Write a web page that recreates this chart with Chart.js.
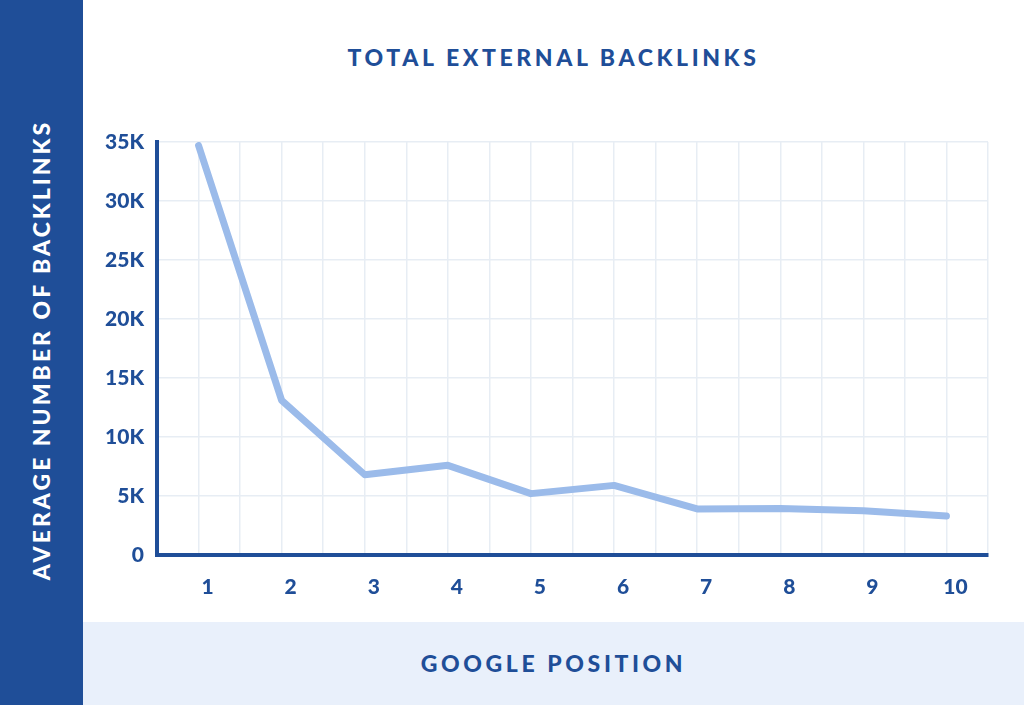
<!DOCTYPE html>
<html>
<head>
<meta charset="utf-8">
<script src="https://cdn.jsdelivr.net/npm/chart.js@4"></script>
<style>
  body { margin: 0; width: 1024px; height: 705px; overflow: hidden; background: #fff; font-family: "Lato", sans-serif; }
  #side { position: absolute; left: 0; top: 0; width: 83px; height: 705px; background: #1f4e98; }
  #side span { position: absolute; left: 41px; top: 350px; transform: translate(-50%, -50%) rotate(-90deg); white-space: nowrap; color: #fff; font-weight: 900; font-size: 23px; letter-spacing: 3px; }
  #band { position: absolute; left: 83px; top: 622px; width: 941px; height: 83px; background: #e9f0fb; }
  #band span, #title { position: absolute; width: 100%; text-align: center; color: #1f4e98; font-weight: 900; letter-spacing: 3.6px; }
  #band span { top: 27px; font-size: 23px; }
  #title { left: 83px; width: 941px; top: 43px; font-size: 23px; }
  #wrap { position: absolute; left: 83px; top: 0; width: 941px; height: 622px; }
</style>
</head>
<body>
<div id="side"><span>AVERAGE NUMBER OF BACKLINKS</span></div>
<div id="band"><span>GOOGLE POSITION</span></div>
<div id="title">TOTAL EXTERNAL BACKLINKS</div>
<div id="wrap"><canvas id="chart"></canvas></div>
<script>
const positions = [1, 2, 3, 4, 5, 6, 7, 8, 9, 10];
const backlinks = [34700, 13100, 6800, 7600, 5200, 5900, 3900, 3950, 3750, 3300];
const yTicks = [0, 5000, 10000, 15000, 20000, 25000, 30000, 35000];

const navy = '#1f4e98';

new Chart(document.getElementById('chart'), {
    type: 'line',
    data: {
        datasets: [{
            data: positions.map((p, i) => ({ x: p, y: backlinks[i] })),
            borderColor: '#9bbbea',
            borderWidth: 7,
            borderCapStyle: 'round',
            borderJoinStyle: 'round',
            pointRadius: 0,
            tension: 0
        }]
    },
    options: {
        responsive: true,
        maintainAspectRatio: false,
        animation: false,
        layout: { padding: { top: 142, right: 36, left: 0, bottom: 0 } },
        plugins: { legend: { display: false }, tooltip: { enabled: false } },
        scales: {
            x: {
                type: 'linear',
                min: 0.5,
                max: 10.5,
                afterBuildTicks: scale => {
                    const t = [];
                    for (let v = 0.5; v <= 10.5; v += 0.5) t.push({ value: v });
                    scale.ticks = t;
                },
                afterFit: scale => { scale.height = 67; },
                border: { color: navy, width: 4 },
                grid: { color: '#e7edf4', lineWidth: 1.5, drawTicks: false },
                ticks: {
                    autoSkip: false,
                    maxRotation: 0,
                    padding: 20,
                    labelOffset: 9,
                    color: navy,
                    font: { family: 'Lato', size: 21, weight: '900' },
                    callback: v => Number.isInteger(v) ? String(v) : ''
                }
            },
            y: {
                min: 0,
                max: 35000,
                afterBuildTicks: scale => { scale.ticks = yTicks.map(v => ({ value: v })); },
                afterFit: scale => { scale.width = 74; },
                border: { color: navy, width: 4 },
                grid: { color: '#e7edf4', lineWidth: 1.5, drawTicks: false },
                ticks: {
                    padding: 13,
                    color: navy,
                    font: { family: 'Lato', size: 21, weight: '900' },
                    callback: v => v === 0 ? '0' : (v / 1000) + 'K'
                }
            }
        }
    }
});
</script>
</body>
</html>
